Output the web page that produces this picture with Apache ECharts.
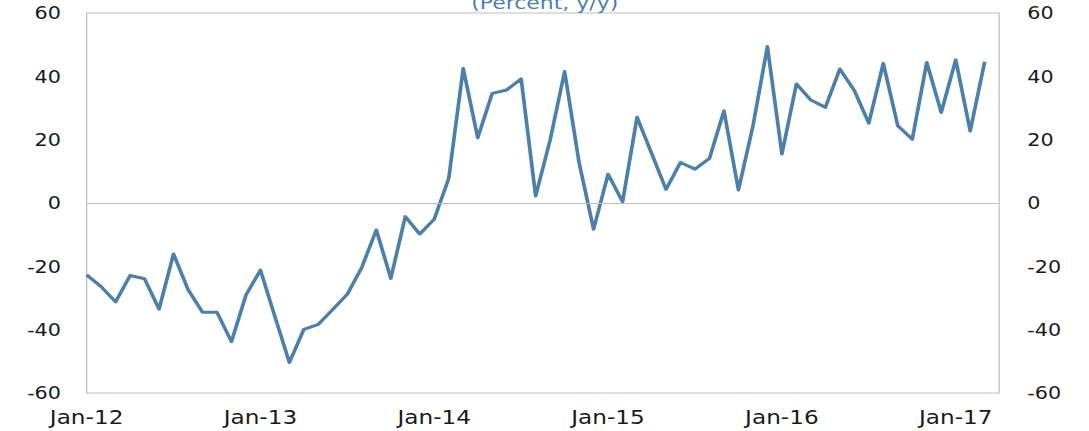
<!DOCTYPE html>
<html>
<head>
<meta charset="utf-8">
<script src="https://cdn.jsdelivr.net/npm/echarts@6/dist/echarts.min.js"></script>
<style>
  html, body { margin: 0; padding: 0; background: #fff; overflow: hidden; }
  /* the reference is stretched sideways, so draw narrower and scale x */
  #chart {
    width: 893px;
    height: 431px;
    transform: scaleX(1.22);
    transform-origin: 0 0;
  }
</style>
</head>
<body>
<div id="chart"></div>
<script>
const months = [
  'Jan-12', 'Feb-12', 'Mar-12', 'Apr-12', 'May-12', 'Jun-12', 'Jul-12', 'Aug-12', 'Sep-12', 'Oct-12', 'Nov-12', 'Dec-12',
  'Jan-13', 'Feb-13', 'Mar-13', 'Apr-13', 'May-13', 'Jun-13', 'Jul-13', 'Aug-13', 'Sep-13', 'Oct-13', 'Nov-13', 'Dec-13',
  'Jan-14', 'Feb-14', 'Mar-14', 'Apr-14', 'May-14', 'Jun-14', 'Jul-14', 'Aug-14', 'Sep-14', 'Oct-14', 'Nov-14', 'Dec-14',
  'Jan-15', 'Feb-15', 'Mar-15', 'Apr-15', 'May-15', 'Jun-15', 'Jul-15', 'Aug-15', 'Sep-15', 'Oct-15', 'Nov-15', 'Dec-15',
  'Jan-16', 'Feb-16', 'Mar-16', 'Apr-16', 'May-16', 'Jun-16', 'Jul-16', 'Aug-16', 'Sep-16', 'Oct-16', 'Nov-16', 'Dec-16',
  'Jan-17', 'Feb-17', 'Mar-17', 'Apr-17'
]

// percent, y/y
const growth = [
  -22.7, -26.4, -31.2, -22.9, -23.9, -33.5, -16.1, -27.3, -34.5, -34.5, -43.8, -29.1,
  -21.2, -35.9, -50.4, -39.9, -38.3, -33.6, -28.8, -20.3, -8.5, -23.8, -4.3, -9.8,
  -5.1, 7.8, 42.5, 20.6, 34.6, 35.7, 39.2, 2.2, 19.9, 41.5, 12.7, -8.3,
  9.1, 0.4, 27.1, 15.7, 4.3, 12.8, 10.7, 14.1, 29.1, 4.1, 24.3, 49.4,
  15.5, 37.6, 32.5, 30.2, 42.3, 35.5, 25.2, 44.1, 24.4, 20.1, 44.4, 28.6,
  45.2, 22.7, 44.6
]

const yTicks = { min: -60, max: 60, interval: 20 }

const font = 'DejaVu Sans'
const gray = '#bfbfbf'
const blue = '#4b7fae'

const chart = echarts.init(document.getElementById('chart'), null, { renderer: 'svg' })

const yAxisBase = {
  type: 'value',
  min: yTicks.min,
  max: yTicks.max,
  interval: yTicks.interval,
  axisLine: { show: false },
  axisTick: { show: false },
  splitLine: { show: false }
}

chart.setOption({
  animation: false,
  title: {
    text: '(Percent, y/y)',
    left: 'center',
    top: -11,
    textStyle: { color: blue, fontFamily: font, fontSize: 18, fontWeight: 'normal' }
  },
  grid: {
    left: 71, right: 74, top: 13, bottom: 38,
    show: true, borderColor: gray, borderWidth: 1
  },
  xAxis: {
    type: 'category',
    data: months,
    boundaryGap: false,
    axisLine: { show: false },
    axisTick: { show: false },
    splitLine: { show: false },
    axisLabel: {
      interval: 11,
      margin: 15,
      color: '#1a1a1a',
      fontFamily: font,
      fontSize: 19
    }
  },
  yAxis: [
    Object.assign({}, yAxisBase, {
      position: 'left',
      axisLabel: { margin: 21, color: '#1a1a1a', fontFamily: font, fontSize: 17 }
    }),
    Object.assign({}, yAxisBase, {
      position: 'right',
      axisLabel: { margin: 23, color: '#1a1a1a', fontFamily: font, fontSize: 17 }
    })
  ],
  series: [{
    type: 'line',
    data: growth,
    symbol: 'none',
    lineStyle: { color: blue, width: 3, join: 'round' },
    markLine: {
      silent: true,
      symbol: 'none',
      label: { show: false },
      lineStyle: { color: gray, type: 'solid', width: 1 },
      data: [{ yAxis: 0 }]
    },
    z: 3
  }]
})
</script>
</body>
</html>
